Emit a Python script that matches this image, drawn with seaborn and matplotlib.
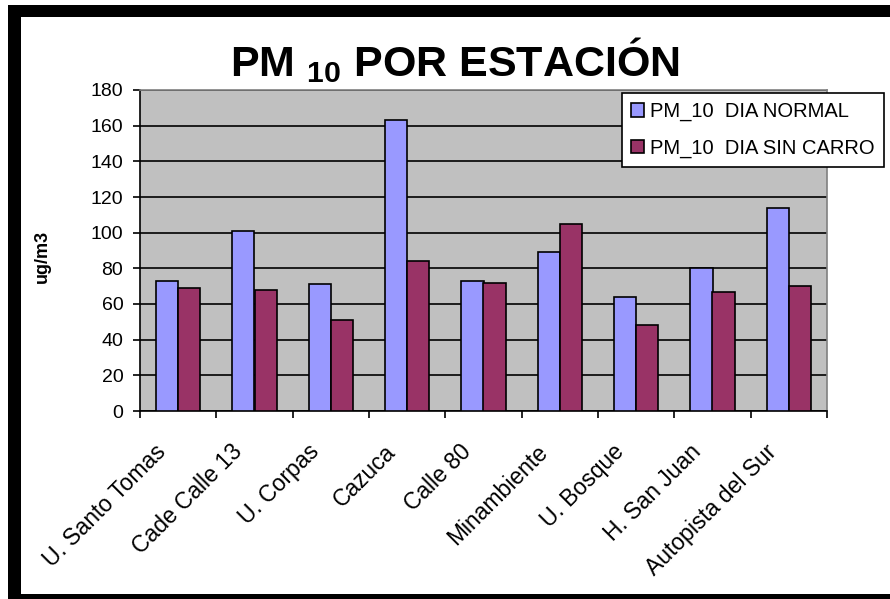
import matplotlib
matplotlib.use("Agg")
import matplotlib.pyplot as plt
import matplotlib.transforms as mtransforms
from matplotlib.patches import Rectangle
import numpy as np
import pandas as pd
import seaborn as sns

# values
estaciones = ["U. Santo Tomas", "Cade Calle 13", "U. Corpas", "Cazuca", "Calle 80",
              "Minambiente", "U. Bosque", "H. San Juan", "Autopista del Sur"]
dia_normal = [73, 101, 71, 163, 73, 89, 64, 80, 114]
dia_sin_carro = [69, 68, 51, 84, 72, 105, 48, 67, 70]
series = ["PM_10  DIA NORMAL", "PM_10  DIA SIN CARRO"]
colores = ["#9999FF", "#993366"]
y_ticks = [0, 20, 40, 60, 80, 100, 120, 140, 160, 180]

df = pd.DataFrame({
    "estacion": estaciones * 2,
    "serie": [series[0]] * len(estaciones) + [series[1]] * len(estaciones),
    "valor": dia_normal + dia_sin_carro,
})

sns.set_theme(style="white")
plt.rcParams["font.family"] = ["Liberation Sans", "DejaVu Sans"]
plt.rcParams["mathtext.fontset"] = "custom"
plt.rcParams["mathtext.rm"] = "Liberation Sans"
plt.rcParams["mathtext.bf"] = "Liberation Sans:bold"
for k in ["text.color", "axes.labelcolor", "xtick.color", "ytick.color"]:
    plt.rcParams[k] = "black"

W, H = 890, 599
fig = plt.figure(figsize=(W / 100, H / 100), dpi=100)
fig.patch.set_facecolor("white")
ax = fig.add_axes([140 / W, 1 - 411 / H, 687 / W, 321 / H])
ax.set_facecolor("#C0C0C0")

sns.barplot(data=df, x="estacion", y="valor", hue="serie", palette=colores,
            width=0.58, edgecolor="black", linewidth=1.2, ax=ax, zorder=3,
            saturation=1)

ax.set_ylim(0, 180)
ax.set_xlim(-0.5, len(estaciones) - 0.5)
ax.set_yticks(y_ticks)
ax.grid(axis="y", color="black", linewidth=1.2, zorder=0)
ax.set_axisbelow(True)

for s in ["top", "right"]:
    ax.spines[s].set_color("#808080")
    ax.spines[s].set_linewidth(1.2)
for s in ["left", "bottom"]:
    ax.spines[s].set_color("black")
    ax.spines[s].set_linewidth(1.2)

ax.tick_params(axis="y", which="major", left=True, length=5, width=1.2,
               color="black", labelsize=14, pad=7)
ax.set_xticks(np.arange(len(estaciones)))
ax.set_xticks(np.arange(-0.5, len(estaciones)), minor=True)
ax.tick_params(axis="x", which="major", bottom=False, length=0, labelsize=16.5, pad=21)
ax.tick_params(axis="x", which="minor", bottom=True, length=5, width=1.2, color="black")
ax.set_xticklabels(estaciones, rotation=45, ha="right", rotation_mode="anchor")
shift = mtransforms.ScaledTranslation(-17 / 72, 0, fig.dpi_scale_trans)
for lbl in ax.get_xticklabels():
    lbl.set_transform(lbl.get_transform() + shift)

ax.set_xlabel("")
ax.set_ylabel("ug/m3", fontsize=13, fontweight="bold")
ax.yaxis.set_label_coords(-0.13, 0.48)

leg = ax.legend(loc="upper right", bbox_to_anchor=(884 / W, 1 - 93 / H),
                bbox_transform=fig.transFigure, fontsize=14.5, frameon=True,
                fancybox=False, edgecolor="black", framealpha=1,
                handlelength=0.65, handleheight=0.65, handletextpad=0.3,
                labelspacing=0.85, borderpad=0.45, borderaxespad=0)
leg.get_frame().set_linewidth(1.2)

fig.text(455 / W, 1 - 60 / H, "PM $_{\\mathbf{10}}$ POR ESTACIÓN",
         fontsize=31, fontweight="bold", ha="center", va="center")

# thick black frame round the chart
for x0, y0, w, h in [(8, 5, W - 8, 12), (8, 5, 13, H - 5), (8, 594, W - 8, 5)]:
    fig.patches.append(Rectangle((x0 / W, 1 - (y0 + h) / H), w / W, h / H,
                                 transform=fig.transFigure, facecolor="black",
                                 edgecolor="none", zorder=10))

fig.savefig("out.png", dpi=100)
